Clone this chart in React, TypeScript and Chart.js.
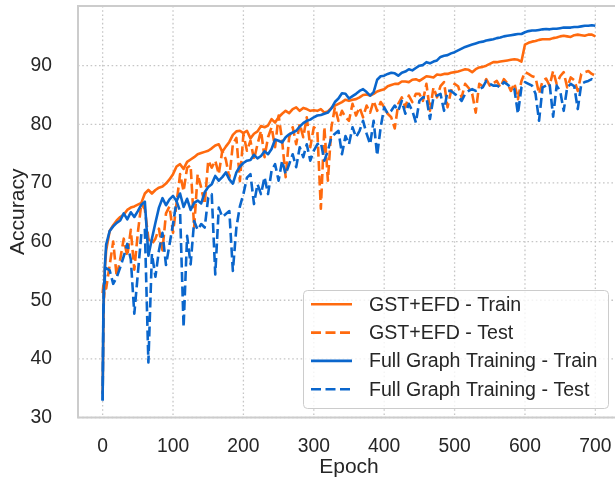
import { useEffect, useRef } from "react";
import { Chart, registerables } from "chart.js";

Chart.register(...registerables);

// Epoch grid (x values)
const epochs = [
  0, 1, 2, 3, 5,
  10, 15, 20, 25, 30, 35, 40, 45, 50, 55,
  60, 65, 70, 75, 80, 85, 90, 95, 100, 105,
  110, 115, 120, 125, 130, 135, 140, 145, 150, 155,
  160, 165, 170, 175, 180, 185, 190, 195, 200, 205,
  210, 215, 220, 225, 230, 235, 240, 245, 250, 255,
  260, 265, 270, 275, 280, 285, 290, 295, 300, 305,
  310, 315, 320, 325, 330, 335, 340, 345, 350, 355,
  360, 365, 370, 375, 380, 385, 390, 395, 400, 405,
  410, 415, 420, 425, 430, 435, 440, 445, 450, 455,
  460, 465, 470, 475, 480, 485, 490, 495, 500, 505,
  510, 515, 520, 525, 530, 535, 540, 545, 550, 555,
  560, 565, 570, 575, 580, 585, 590, 595, 600, 605,
  610, 615, 620, 625, 630, 635, 640, 645, 650, 655,
  660, 665, 670, 675, 680, 685, 690, 695, 700,
];

const gstTrain = [
  34, 45, 52, 55, 58.5,
  61.8, 62.8, 63.6, 64.2, 64.6, 65.4, 65.8, 66.0, 66.3, 66.6,
  68.2, 68.8, 68.2, 68.8, 69.2, 69.4, 69.9, 70.6, 71.5, 72.8,
  73.2, 72.4, 73.6, 74.0, 74.4, 74.9, 75.1, 75.3, 75.5, 75.9,
  76.4, 76.6, 75.3, 76.2, 77.0, 78.2, 78.8, 78.9, 78.5, 78.9,
  77.6, 78.4, 78.8, 79.7, 79.5, 79.8, 80.9, 80.3, 81.2, 81.8,
  82.3, 81.9, 82.6, 82.9, 82.3, 82.8, 82.6, 82.3, 82.4, 82.3,
  82.6, 82.0, 82.2, 82.8, 83.2, 83.5, 83.8, 84.2, 84.0, 84.2,
  84.3, 84.6, 85.0, 85.1, 84.9, 85.2, 85.6, 85.8, 86.0, 86.5,
  86.7, 86.9, 86.9, 87.3, 87.3, 87.2, 87.6, 87.7, 87.4, 87.8,
  88.2, 88.1, 88.0, 88.5, 88.4, 88.6, 88.6, 88.8, 88.9, 89.0,
  89.2, 89.4, 89.3, 88.9, 89.4, 89.7, 89.8, 90.0, 90.3, 90.6,
  90.6, 90.7, 90.8, 90.9, 91.0, 91.1, 91.0, 90.7, 93.6, 93.9,
  94.1, 94.2, 94.4, 94.5, 94.5, 94.5, 94.7, 94.8, 95.0, 95.1,
  95.0, 94.9, 95.2, 95.3, 95.2, 95.1, 95.3, 95.3, 95.0,
];

const gstTest = [
  51.2, 52.5, 50.5, 53.5, 52.0,
  56.0, 60.0, 54.0, 57.0, 60.5, 57.5, 62.0, 55.2, 61.5, 66.5,
  65.5, 60.5, 59.6, 60.5, 62.2, 58.5, 64.8, 66.0, 61.5, 66.5,
  71.5, 68.6, 72.6, 73.0, 62.4, 71.5, 69.2, 66.4, 73.8, 72.6,
  73.8, 71.5, 75.5, 74.0, 70.9, 76.6, 77.7, 70.3, 78.3, 75.5,
  77.2, 74.0, 76.6, 78.9, 74.4, 77.8, 79.5, 76.1, 81.5, 77.2,
  71.0, 77.8, 79.5, 76.6, 80.1, 77.8, 81.2, 76.1, 79.5, 79.0,
  65.6, 79.5, 70.4, 79.5, 82.9, 80.6, 82.3, 81.2, 80.6, 83.5,
  81.5, 82.9, 81.2, 83.2, 82.0, 84.0, 82.3, 83.8, 82.9, 81.8,
  81.2, 79.3, 83.5, 84.6, 82.9, 84.9, 83.8, 85.2, 85.2, 84.0,
  86.9, 82.3, 86.3, 84.6, 86.5, 87.2, 82.9, 85.7, 86.9, 86.5,
  84.6, 86.9, 86.2, 85.2, 82.0, 86.9, 86.5, 87.7, 86.6, 87.0,
  87.4, 86.3, 87.7, 87.0, 85.7, 87.0, 84.3, 87.4, 88.9, 88.6,
  88.2, 88.0, 85.2, 87.4, 87.8, 86.6, 89.1, 86.9, 88.2, 88.9,
  86.3, 88.0, 87.5, 85.7, 88.6, 88.9, 89.1, 88.6, 88.3,
];

const fullTrain = [
  32.9, 48, 53, 55.5, 59.5,
  61.8, 62.6, 63.2, 63.6, 64.8, 63.8, 65.0, 64.2, 65.2, 66.3,
  66.8, 57.6, 60.5, 63.2, 65.8, 67.4, 66.2, 67.2, 67.8, 66.9,
  68.2, 65.9, 67.3, 65.4, 66.6, 67.0, 66.5, 68.4, 69.3, 69.8,
  71.2, 70.4, 71.0, 71.8, 70.6, 69.9, 71.8, 72.8, 73.4, 73.8,
  73.9, 74.8, 74.2, 74.6, 75.4, 74.9, 75.8, 77.4, 77.2, 76.9,
  77.8, 78.3, 78.6, 78.9, 79.6, 80.2, 80.6, 80.8, 81.2, 81.5,
  81.6, 81.8, 82.0, 82.7, 83.8, 84.4, 85.3, 85.2, 84.4, 84.8,
  85.2, 85.7, 86.0, 85.5, 84.9, 85.5, 87.6, 88.2, 88.3, 88.6,
  88.8, 88.7, 88.3, 88.8, 89.0, 89.4, 89.2, 89.6, 90.0, 90.1,
  90.6, 90.4, 90.7, 90.9, 91.5, 91.7, 91.8, 92.1, 92.3, 92.6,
  92.9, 93.2, 93.4, 93.6, 93.8, 94.0, 94.1, 94.3, 94.4, 94.5,
  94.7, 94.8, 95.0, 95.1, 95.2, 95.3, 95.4, 95.4, 95.7, 95.9,
  96.0, 96.0, 96.1, 96.2, 96.25, 96.2, 96.3, 96.3, 96.4, 96.5,
  96.5, 96.5, 96.6, 96.6, 96.7, 96.8, 96.8, 96.9, 96.8,
];

const fullTest = [
  32.9, 47, 52.4, 53.9, 55.5,
  55.1, 52.8, 53.9, 55.6, 57.5, 59.6, 57.0, 47.7, 54.5, 61.3,
  62.0, 39.4, 57.9, 54.0, 58.5, 61.5, 56.0, 59.5, 63.0, 66.9,
  65.2, 45.4, 61.0, 56.1, 63.5, 62.0, 63.0, 62.4, 67.5, 68.1,
  54.4, 65.8, 64.2, 64.7, 65.2, 55.0, 62.4, 66.0, 68.1, 70.9,
  71.5, 66.4, 69.8, 68.1, 71.0, 68.1, 72.1, 73.2, 70.4, 73.8,
  71.5, 73.2, 74.9, 72.7, 76.1, 74.4, 76.6, 73.8, 75.5, 76.6,
  76.9, 73.8, 75.5, 77.8, 78.4, 78.9, 74.9, 78.0, 76.6, 79.5,
  77.8, 78.9, 80.6, 78.4, 76.6, 80.6, 74.7, 79.5, 82.9, 81.8,
  82.3, 83.2, 82.3, 84.0, 81.8, 83.5, 82.3, 80.3, 84.0, 84.6,
  84.6, 80.9, 84.6, 84.9, 85.2, 82.3, 85.7, 85.7, 85.2, 84.8,
  84.0, 85.2, 85.7, 86.0, 85.7, 86.0, 86.3, 87.4, 86.9, 86.6,
  86.6, 86.3, 87.2, 86.8, 86.3, 86.0, 81.8, 86.3, 87.2, 86.9,
  86.6, 85.2, 80.6, 86.3, 86.6, 86.9, 81.3, 86.6, 85.7, 82.3,
  86.3, 86.9, 86.5, 82.6, 86.9, 87.2, 87.4, 87.7, 87.2,
];

const seriesLabels = [
  "GST+EFD - Train",
  "GST+EFD - Test",
  "Full Graph Training - Train",
  "Full Graph Training - Test",
];

const xTicks = [0, 100, 200, 300, 400, 500, 600, 700];
const yTicks = [30, 40, 50, 60, 70, 80, 90];

const ORANGE = "#ff6a0e";
const BLUE = "#0a66cc";
const TEXT = "#262626";
const FONT = "'Liberation Sans', Arial, Helvetica, sans-serif";
const DASH = [10, 4.5];

const zeroPad = (s: any) => {
  s.paddingTop = 0;
  s.paddingBottom = 0;
  s.paddingLeft = 0;
  s.paddingRight = 0;
};

export default function App() {
  const ref = useRef<HTMLCanvasElement>(null);

  useEffect(() => {
    if (!ref.current) return;
    const toPts = (vals: number[]) => epochs.map((e, i) => ({ x: e, y: vals[i] }));

    const mplPlugin = {
      id: "mplDecor",
      beforeDatasetsDraw(chart: any) {
        const { ctx, chartArea: a, scales } = chart;
        const x = scales.x;
        const y = scales.y;
        ctx.save();
        ctx.strokeStyle = "#c6c6c6";
        ctx.lineWidth = 1.3;
        ctx.setLineDash([1.6, 2.6]);
        xTicks.forEach((v) => {
          const px = x.getPixelForValue(v);
          ctx.beginPath();
          ctx.moveTo(px, a.top);
          ctx.lineTo(px, a.bottom);
          ctx.stroke();
        });
        yTicks.forEach((v) => {
          const py = y.getPixelForValue(v);
          ctx.beginPath();
          ctx.moveTo(a.left, py);
          ctx.lineTo(a.right, py);
          ctx.stroke();
        });
        ctx.restore();
      },
      afterDatasetsDraw(chart: any) {
        const { ctx, chartArea: a } = chart;
        ctx.save();
        ctx.setLineDash([]);
        ctx.strokeStyle = "#cccccc";
        ctx.lineWidth = 2;
        ctx.strokeRect(a.left, a.top, a.right - a.left, a.bottom - a.top);
        ctx.restore();
      },
      afterDraw(chart: any) {
        const { ctx } = chart;
        ctx.save();
        const bx = 303.5, by = 290.5, bw = 305, bh = 118;
        ctx.beginPath();
        (ctx as any).roundRect(bx, by, bw, bh, 4);
        ctx.fillStyle = "rgba(255,255,255,0.8)";
        ctx.fill();
        ctx.setLineDash([]);
        ctx.strokeStyle = "#cccccc";
        ctx.lineWidth = 1;
        ctx.stroke();
        chart.data.datasets.forEach((ds: any, i: number) => {
          const cy = 304.3 + i * 28.3;
          ctx.strokeStyle = ds.borderColor;
          ctx.lineWidth = 2.6;
          ctx.setLineDash(ds.borderDash || []);
          ctx.beginPath();
          ctx.moveTo(311, cy);
          ctx.lineTo(352, cy);
          ctx.stroke();
          ctx.setLineDash([]);
          ctx.fillStyle = TEXT;
          ctx.font = `19.6px ${FONT}`;
          ctx.textBaseline = "middle";
          ctx.textAlign = "left";
          ctx.fillText(ds.label, 369, cy + 1);
        });
        ctx.restore();
      },
    };

    const chart = new Chart(ref.current, {
      type: "line",
      data: {
        datasets: [
          { label: seriesLabels[0], data: toPts(gstTrain), borderColor: ORANGE, order: 4 },
          { label: seriesLabels[1], data: toPts(gstTest), borderColor: ORANGE, borderDash: DASH, order: 3 },
          { label: seriesLabels[2], data: toPts(fullTrain), borderColor: BLUE, order: 2 },
          { label: seriesLabels[3], data: toPts(fullTest), borderColor: BLUE, borderDash: DASH, order: 1 },
        ] as any,
      },
      options: {
        responsive: false,
        animation: false,
        devicePixelRatio: 1,
        events: [],
        layout: { autoPadding: false, padding: { top: 6, right: 2, left: 0, bottom: 0 } },
        elements: {
          point: { radius: 0 },
          line: { borderWidth: 2.6, tension: 0, fill: false, borderJoinStyle: "round" },
        },
        plugins: { legend: { display: false }, tooltip: { enabled: false } },
        scales: {
          x: {
            type: "linear",
            min: -35,
            max: 735,
            grid: { display: false },
            border: { display: false },
            afterBuildTicks: (s: any) => {
              s.ticks = xTicks.map((v) => ({ value: v }));
            },
            afterFit: (s: any) => {
              s.height = 66.5;
              zeroPad(s);
            },
            ticks: {
              color: TEXT,
              font: { family: FONT, size: 19.3 },
              padding: 9.5,
              maxRotation: 0,
              autoSkip: false,
            },
            title: {
              display: true,
              text: "Epoch",
              color: TEXT,
              font: { family: FONT, size: 21 },
              padding: { top: 0, bottom: 4 },
            },
          },
          y: {
            type: "linear",
            min: 30,
            max: 100.18,
            grid: { display: false },
            border: { display: false },
            afterBuildTicks: (s: any) => {
              s.ticks = yTicks.map((v) => ({ value: v }));
            },
            afterFit: (s: any) => {
              s.width = 78;
              zeroPad(s);
            },
            ticks: {
              color: TEXT,
              font: { family: FONT, size: 19.3 },
              padding: 18,
              autoSkip: false,
            },
            title: {
              display: true,
              text: "Accuracy",
              color: TEXT,
              font: { family: FONT, size: 21 },
              padding: { top: 5.5, bottom: 0 },
            },
          },
        },
      } as any,
      plugins: [mplPlugin],
    });

    return () => chart.destroy();
  }, []);

  return (
    <div
      style={{
        position: "fixed",
        left: 0,
        top: 0,
        width: 615,
        height: 484,
        overflow: "hidden",
        background: "#ffffff",
      }}
    >
      <canvas ref={ref} width={622} height={484} style={{ display: "block" }} />
    </div>
  );
}
